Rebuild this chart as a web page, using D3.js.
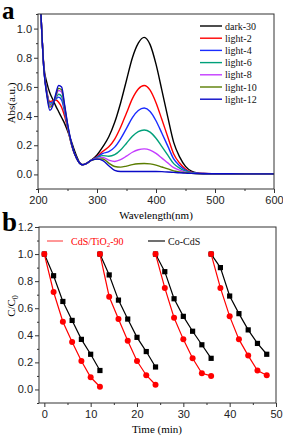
<!DOCTYPE html>
<html>
<head>
<meta charset="utf-8">
<script src="https://cdn.jsdelivr.net/npm/d3@7"></script>
<style>
  body { margin: 0; background: #fff; }
  svg { display: block; font-family: "Liberation Serif", "Times New Roman", serif; }
</style>
</head>
<body>
<div id="chart"></div>
<script>
// Panel a: UV-vis spectra
const wavelengths = [200,205,210,215,220,225,230,235,240,245,250,255,260,265,270,275,280,290,
  300,310,320,330,340,350,360,370,380,390,400,410,420,430,440,450,460,470,480,500,550,600];
const dark30 = [1.6,1.1,0.74,0.63,0.56,0.515,0.47,0.43,0.39,0.35,0.30,0.245,0.185,0.13,0.085,0.068,0.072,0.096,
  0.133,0.19,0.258,0.357,0.49,0.646,0.80,0.90,0.94,0.89,0.756,0.576,0.393,0.22,0.12,0.055,0.022,0.01,0.007,0.005,0.004,0.004];
const light2 = [1.6,1.1,0.73,0.57,0.50,0.505,0.51,0.495,0.46,0.40,0.32,0.23,0.16,0.113,0.08,0.066,0.07,0.096,
  0.123,0.159,0.189,0.242,0.323,0.421,0.52,0.586,0.61,0.578,0.492,0.376,0.257,0.14,0.078,0.037,0.016,0.009,0.006,0.005,0.004,0.004];
const light4 = [1.6,1.1,0.72,0.565,0.49,0.495,0.515,0.53,0.51,0.43,0.33,0.235,0.163,0.114,0.08,0.066,0.07,0.096,
  0.118,0.144,0.156,0.187,0.244,0.316,0.39,0.438,0.455,0.432,0.368,0.282,0.194,0.106,0.06,0.03,0.013,0.008,0.006,0.005,0.004,0.004];
const light6 = [1.6,1.1,0.72,0.56,0.48,0.49,0.52,0.55,0.535,0.445,0.335,0.235,0.163,0.114,0.08,0.066,0.07,0.096,
  0.114,0.129,0.125,0.135,0.167,0.214,0.262,0.294,0.305,0.29,0.248,0.191,0.132,0.074,0.043,0.022,0.011,0.007,0.005,0.005,0.004,0.004];
const light8 = [1.6,1.1,0.72,0.555,0.47,0.485,0.53,0.575,0.565,0.46,0.34,0.24,0.165,0.115,0.08,0.066,0.07,0.096,
  0.11,0.116,0.098,0.089,0.101,0.125,0.152,0.169,0.175,0.167,0.144,0.112,0.079,0.047,0.029,0.016,0.009,0.006,0.005,0.005,0.004,0.004];
const light10 = [1.6,1.1,0.72,0.55,0.46,0.48,0.54,0.59,0.58,0.47,0.345,0.24,0.165,0.115,0.08,0.066,0.07,0.096,
  0.105,0.106,0.077,0.054,0.05,0.057,0.067,0.073,0.075,0.072,0.064,0.051,0.038,0.024,0.017,0.011,0.007,0.005,0.005,0.005,0.004,0.004];
const light12 = [1.6,1.1,0.72,0.54,0.44,0.47,0.55,0.61,0.60,0.48,0.35,0.245,0.165,0.115,0.08,0.066,0.07,0.096,
  0.105,0.095,0.06,0.028,0.02,0.02,0.02,0.02,0.02,0.02,0.02,0.019,0.017,0.014,0.011,0.009,0.007,0.006,0.005,0.005,0.004,0.004];
const spectraNames = ["dark-30","light-2","light-4","light-6","light-8","light-10","light-12"];
const spectraColors = ["#000000","#ff0000","#1a2cff","#00a07a","#c43cff","#5a7d00","#0a0ac8"];
const spectra = [dark30, light2, light4, light6, light8, light10, light12];

// Panel b: cycling test
const cycleTimes = [[0,2,4,6,8,10,12],[12,14,16,18,20,22,24],[24,26,28,30,32,34,36],[36,38,40,42,44,46,48]];
const cdsTiO2 = [[1.0,0.72,0.50,0.35,0.21,0.09,0.02],[1.0,0.685,0.52,0.36,0.21,0.105,0.035],
  [1.0,0.75,0.53,0.37,0.23,0.12,0.10],[1.0,0.75,0.54,0.37,0.25,0.14,0.105]];
const coCdS = [[1.0,0.84,0.65,0.51,0.37,0.26,0.14],[1.0,0.846,0.66,0.52,0.385,0.28,0.166],
  [1.0,0.87,0.67,0.54,0.43,0.33,0.23],[1.0,0.90,0.69,0.56,0.44,0.34,0.26]];

const width = 283, height = 438;
const svg = d3.select("#chart").append("svg")
  .attr("width", width)
  .attr("height", height);

function drawAxes(g, x, y, xMajor, xMinor, yMajor, yMinor, yFmt) {
  const [x0, x1] = x.range();
  const [y0, y1] = y.range();
  g.append("g")
    .attr("transform", `translate(0,${y0})`)
    .call(d3.axisBottom(x).tickValues(xMinor).tickFormat("").tickSize(2))
    .call(a => a.select(".domain").remove());
  g.append("g")
    .attr("transform", `translate(0,${y0})`)
    .call(d3.axisBottom(x).tickValues(xMajor).tickFormat(d3.format("d")).tickSize(4).tickPadding(3))
    .call(a => a.select(".domain").remove())
    .call(a => a.selectAll("text").attr("font-size", "11px").attr("fill", "#222").style("font-family", "inherit"));
  g.append("g")
    .attr("transform", `translate(${x0},0)`)
    .call(d3.axisLeft(y).tickValues(yMinor).tickFormat("").tickSize(2))
    .call(a => a.select(".domain").remove());
  g.append("g")
    .attr("transform", `translate(${x0},0)`)
    .call(d3.axisLeft(y).tickValues(yMajor).tickFormat(yFmt).tickSize(4).tickPadding(2))
    .call(a => a.select(".domain").remove())
    .call(a => a.selectAll("text").attr("font-size", "11px").attr("fill", "#222").style("font-family", "inherit"));
  g.selectAll(".tick line").attr("stroke", "#333");
  g.append("rect")
    .attr("x", x0).attr("y", y1)
    .attr("width", x1 - x0).attr("height", y0 - y1)
    .attr("fill", "none").attr("stroke", "#333").attr("stroke-width", 1);
}

// ---------- panel a ----------
const ga = svg.append("g");
const xa = d3.scaleLinear().domain([200, 600]).range([38, 274]);
const ya = d3.scaleLinear().domain([-0.1, 1.1]).range([189, 14]);

svg.append("clipPath").attr("id", "clipA")
  .append("rect").attr("x", 38).attr("y", 14).attr("width", 236).attr("height", 175);

const lineA = d3.line()
  .x((d, i) => xa(wavelengths[i]))
  .y(d => ya(d))
  .curve(d3.curveMonotoneX);

ga.append("g").attr("clip-path", "url(#clipA)")
  .selectAll("path")
  .data(spectra)
  .enter()
  .append("path")
  .attr("d", d => lineA(d))
  .attr("fill", "none")
  .attr("stroke", (d, i) => spectraColors[i])
  .attr("stroke-width", 1.4);

drawAxes(ga, xa, ya, d3.range(200, 601, 100), d3.range(250, 600, 100),
  d3.range(0, 1.01, 0.2), d3.range(-0.1, 1.11, 0.2), d3.format(".1f"));

// legend a
const legA = ga.append("g").attr("transform", "translate(200,26)");
spectraNames.forEach((name, i) => {
  legA.append("line")
    .attr("x1", 0).attr("x2", 22)
    .attr("y1", i * 12.2).attr("y2", i * 12.2)
    .attr("stroke", spectraColors[i]).attr("stroke-width", 1.4);
  legA.append("text")
    .attr("x", 25).attr("y", i * 12.2 + 3.5)
    .attr("font-size", "10px")
    .attr("fill", "#111")
    .text(name);
});

ga.append("text")
  .attr("x", 156).attr("y", 219)
  .attr("text-anchor", "middle")
  .attr("font-size", "11px")
  .text("Wavelength(nm)");

ga.append("text")
  .attr("transform", "rotate(-90)")
  .attr("x", -103).attr("y", 15)
  .attr("text-anchor", "middle")
  .attr("font-size", "11px")
  .text("Abs(a.u.)");

svg.append("text")
  .attr("x", 2).attr("y", 19)
  .attr("font-size", "25px")
  .attr("font-weight", "bold")
  .text("a");

// ---------- panel b ----------
const gb = svg.append("g");
const xb = d3.scaleLinear().domain([-1.15, 50]).range([39, 276]);
const yb = d3.scaleLinear().domain([-0.1, 1.2]).range([403, 227]);

const lineB = d3.line()
  .x(d => xb(d[0]))
  .y(d => yb(d[1]));

// black (Co-CdS) first, red on top
cycleTimes.forEach((ts, c) => {
  const pts = ts.map((t, i) => [t, coCdS[c][i]]);
  gb.append("path")
    .attr("d", lineB(pts))
    .attr("fill", "none")
    .attr("stroke", "#000")
    .attr("stroke-width", 1.2);
  gb.selectAll(null)
    .data(pts)
    .enter()
    .append("rect")
    .attr("x", d => xb(d[0]) - 2.6)
    .attr("y", d => yb(d[1]) - 2.6)
    .attr("width", 5.2).attr("height", 5.2)
    .attr("fill", "#000");
});
cycleTimes.forEach((ts, c) => {
  const pts = ts.map((t, i) => [t, cdsTiO2[c][i]]);
  gb.append("path")
    .attr("d", lineB(pts))
    .attr("fill", "none")
    .attr("stroke", "#ff0000")
    .attr("stroke-width", 1.2);
  gb.selectAll(null)
    .data(pts)
    .enter()
    .append("circle")
    .attr("cx", d => xb(d[0]))
    .attr("cy", d => yb(d[1]))
    .attr("r", 3)
    .attr("fill", "#ff0000");
});

drawAxes(gb, xb, yb, d3.range(0, 51, 10), d3.range(5, 50, 10),
  d3.range(0, 1.21, 0.2), d3.range(-0.1, 1.11, 0.2), d3.format(".1f"));

// legend b
gb.append("line")
  .attr("x1", 47).attr("x2", 63).attr("y1", 241).attr("y2", 241)
  .attr("stroke", "#ff3030").attr("stroke-width", 1);
const redLabel = gb.append("text")
  .attr("x", 71).attr("y", 244.5)
  .attr("font-size", "10px")
  .attr("fill", "#ff0000");
redLabel.append("tspan").text("CdS/TiO");
redLabel.append("tspan").attr("font-size", "7px").attr("dy", 2.5).text("2");
redLabel.append("tspan").attr("dy", -2.5).text("-90");

gb.append("line")
  .attr("x1", 148).attr("x2", 165).attr("y1", 241).attr("y2", 241)
  .attr("stroke", "#333").attr("stroke-width", 1.4);
gb.append("text")
  .attr("x", 168).attr("y", 244.5)
  .attr("font-size", "10px")
  .attr("fill", "#111")
  .text("Co-CdS");

gb.append("text")
  .attr("x", 157).attr("y", 433)
  .attr("text-anchor", "middle")
  .attr("font-size", "11px")
  .text("Time (min)");

const cLabel = gb.append("text")
  .attr("transform", "rotate(-90)")
  .attr("x", -306).attr("y", 15)
  .attr("text-anchor", "middle")
  .attr("font-size", "11px");
cLabel.append("tspan").text("C/C");
cLabel.append("tspan").attr("font-size", "8px").attr("dy", 2.5).text("0");

svg.append("text")
  .attr("x", 2).attr("y", 231)
  .attr("font-size", "27px")
  .attr("font-weight", "bold")
  .text("b");
</script>
</body>
</html>
